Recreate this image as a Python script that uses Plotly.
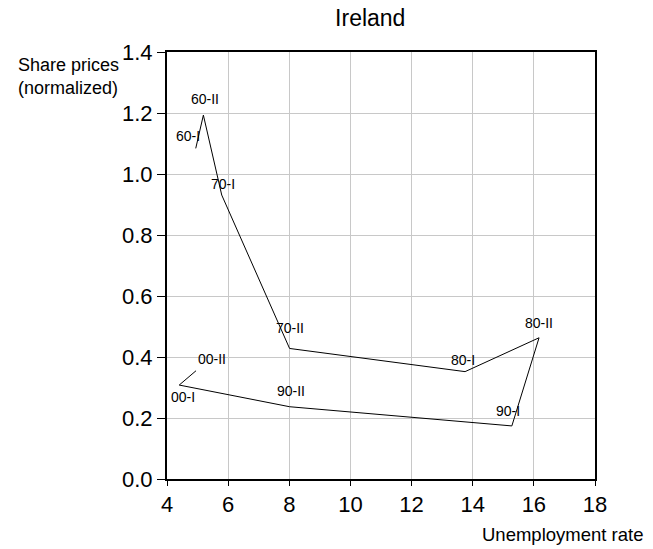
import plotly.graph_objects as go

labels = ["60-I", "60-II", "70-I", "70-II", "80-I", "80-II", "90-I", "90-II", "00-I", "00-II"]
unemployment = [4.94, 5.19, 5.79, 8.01, 13.75, 16.17, 15.28, 8.01, 4.40, 4.95]
share_prices = [1.084, 1.193, 0.931, 0.428, 0.352, 0.463, 0.174, 0.237, 0.308, 0.355]

# label pixel offsets (styling)
label_dx = [-8, 2, 1, 0, -2, 0, -4, 1, 4, 16]
label_dy = [12, 16, 11, 20, 12, 15, 15, 16, -12, 12]

FONT = "Liberation Sans, Arial, sans-serif"

fig = go.Figure()
fig.add_trace(go.Scatter(
    x=unemployment, y=share_prices, mode="lines",
    line=dict(color="black", width=1), hoverinfo="skip", showlegend=False))

for lab, xv, yv, dx, dy in zip(labels, unemployment, share_prices, label_dx, label_dy):
    fig.add_annotation(x=xv, y=yv, text=lab, showarrow=False, xshift=dx, yshift=dy,
                       font=dict(family=FONT, size=14, color="black"))

fig.update_layout(
    width=653, height=549,
    margin=dict(l=167, r=58, t=52, b=70),
    paper_bgcolor="white", plot_bgcolor="white",
    font=dict(family=FONT, color="black"),
    title=dict(text="Ireland", x=0.567, xanchor="center", y=0.968, yanchor="middle",
               font=dict(size=23, family=FONT)),
    showlegend=False,
)
fig.update_xaxes(range=[4, 18], tickvals=[4, 6, 8, 10, 12, 14, 16, 18],
                 showgrid=True, gridcolor="#c8c8c8", gridwidth=1,
                 showline=True, linecolor="black", linewidth=2, mirror=True,
                 ticks="outside", ticklen=5, tickcolor="black",
                 tickfont=dict(size=22, family=FONT), zeroline=False)
fig.update_yaxes(range=[0, 1.4], tickvals=[0, 0.2, 0.4, 0.6, 0.8, 1.0, 1.2, 1.4],
                 ticktext=["0.0", "0.2", "0.4", "0.6", "0.8", "1.0", "1.2", "1.4"],
                 showgrid=True, gridcolor="#c8c8c8", gridwidth=1,
                 showline=True, linecolor="black", linewidth=2, mirror=True,
                 ticks="outside", ticklen=8, tickcolor="black",
                 tickfont=dict(size=22, family=FONT), zeroline=False)

fig.add_annotation(text="Share prices<br>(normalized)", xref="paper", yref="paper",
                   x=-0.352, y=0.997, xanchor="left", yanchor="top", align="left",
                   showarrow=False, font=dict(size=18, family=FONT))
fig.add_annotation(text="Unemployment rate", xref="paper", yref="paper",
                   x=1.117, y=-0.131, xanchor="right", yanchor="middle",
                   showarrow=False, font=dict(size=18.5, family=FONT))

fig.write_html("out.html", config={"displayModeBar": False},
               post_script="document.body.style.margin='0';")
